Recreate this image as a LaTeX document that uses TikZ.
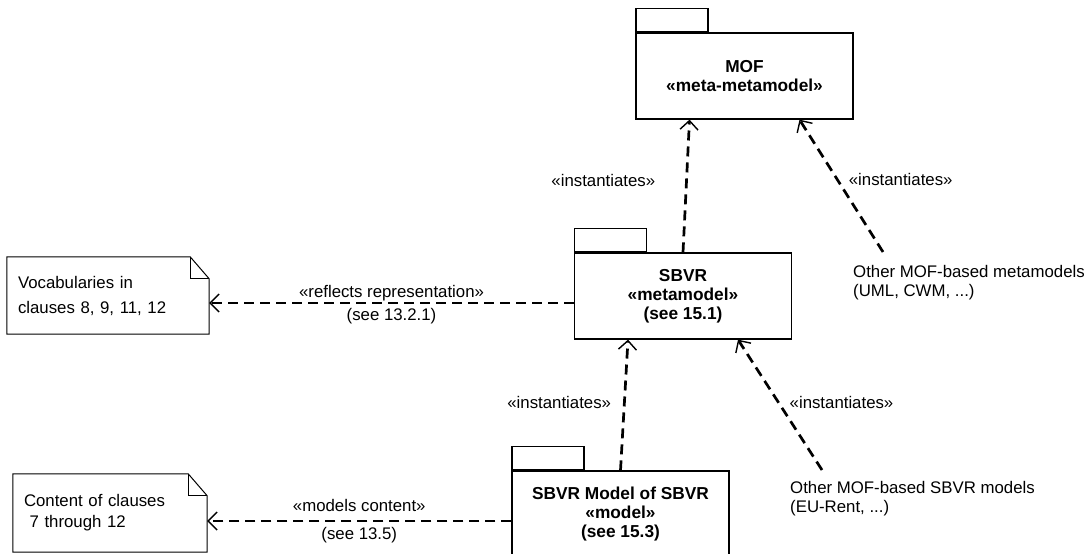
\documentclass[tikz,border=0pt]{standalone}
\usepackage{fontspec}
\setmainfont{Liberation Sans}
\usetikzlibrary{arrows.meta, positioning, calc}

\begin{document}
\begin{tikzpicture}[x=1pt, y=-1pt,
  pkgbody/.style={rectangle, draw=black, line width=1.3pt, fill=white,
    minimum width=217pt, minimum height=86pt, align=center,
    font=\fontsize{17.3}{19}\selectfont\bfseries, inner sep=2pt},
  pkgtab/.style={rectangle, draw=black, line width=1.3pt, fill=white,
    minimum width=72pt, minimum height=23pt, inner sep=0pt, anchor=south west},
  notebox/.style={rectangle, align=left, inner xsep=11pt, inner ysep=0pt,
    font=\fontsize{16.8}{21}\selectfont},
  noteline/.style={draw=black, line width=1pt},
  txt/.style={font=\fontsize{16.8}{19}\selectfont, inner sep=2pt, align=left},
  dep/.style={line width=2.7pt, dash pattern=on 10pt off 6pt,
    -{Straight Barb[length=9pt, width=18pt, line width=1.4pt]}}
]
\useasboundingbox (0,0) rectangle (1092,554);

%% --- Packages ---
\node[pkgbody] (mof) at (744.5,76) {MOF\\«meta-metamodel»};
\node[pkgtab] (moftab) at (mof.north west) {};
\node[pkgbody] (sbvr) at (683,296) {SBVR\\«metamodel»\\(see 15.1)};
\node[pkgtab] (sbvrtab) at (sbvr.north west) {};
\node[pkgbody] (model) at (620.5,514) {SBVR Model of SBVR\\«model»\\(see 15.3)};
\node[pkgtab] (modeltab) at (model.north west) {};

%% --- Notes ---
\node[notebox, text width=180pt, minimum height=77pt] (vocnote) at (108,295.5)
  {Vocabularies in\\[4pt]clauses 8, 9, 11, 12};
\draw[noteline] (vocnote.north west) -- ([xshift=-19pt]vocnote.north east)
  -- ([yshift=-22pt]vocnote.north east) -- (vocnote.south east)
  -- (vocnote.south west) -- cycle;
\draw[noteline] ([xshift=-19pt]vocnote.north east) |- ([yshift=-22pt]vocnote.north east);

\node[notebox, text width=172pt, minimum height=78pt] (contnote) at (110,513)
  {Content of clauses\\\ 7 through 12};
\draw[noteline] (contnote.north west) -- ([xshift=-19pt]contnote.north east)
  -- ([yshift=-22pt]contnote.north east) -- (contnote.south east)
  -- (contnote.south west) -- cycle;
\draw[noteline] ([xshift=-19pt]contnote.north east) |- ([yshift=-22pt]contnote.north east);

%% --- Other models ---
\node[txt, anchor=north west] (othermeta) at (851,263)
  {Other MOF-based metamodels\\(UML, CWM, ...)};
\node[txt, anchor=north west] (othersbvr) at (788,479)
  {Other MOF-based SBVR models\\(EU-Rent, ...)};
\coordinate (metaend) at (883,252);
\coordinate (sbvrend) at (822,470);

%% --- Instantiation ---
\draw[dep] (sbvr.north) -- ([xshift=-55pt]mof.south)
  node[txt, pos=.54, anchor=east, xshift=-28pt] (lblmof) {«instantiates»};
\draw[dep] (metaend) -- ([xshift=55pt]mof.south)
  node[txt, pos=.545, anchor=west, xshift=8pt] (lblmeta) {«instantiates»};
\draw[dep] (model.north) -- ([xshift=-55pt]sbvr.south)
  node[txt, pos=.52, anchor=east, xshift=-10pt] (lblsbvr) {«instantiates»};
\draw[dep] (sbvrend) -- ([xshift=55pt]sbvr.south)
  node[txt, pos=.52, anchor=west, xshift=8pt] (lblother) {«instantiates»};

%% --- Package -> notes ---
\coordinate (reflstart) at ([yshift=-7pt]sbvr.west);
\draw[dep] (reflstart) -- (reflstart -| vocnote.east)
  node[txt, midway, yshift=10pt] (lblrefl) {«reflects representation»}
  node[txt, midway, yshift=-13.5pt] (lblreflsee) {(see 13.2.1)};
\coordinate (contstart) at ([yshift=-7pt]model.west);
\draw[dep] (contstart) -- (contstart -| contnote.east)
  node[txt, midway, yshift=16pt] (lblcont) {«models content»}
  node[txt, midway, yshift=-14pt] (lblcontsee) {(see 13.5)};

\end{tikzpicture}
\end{document}
